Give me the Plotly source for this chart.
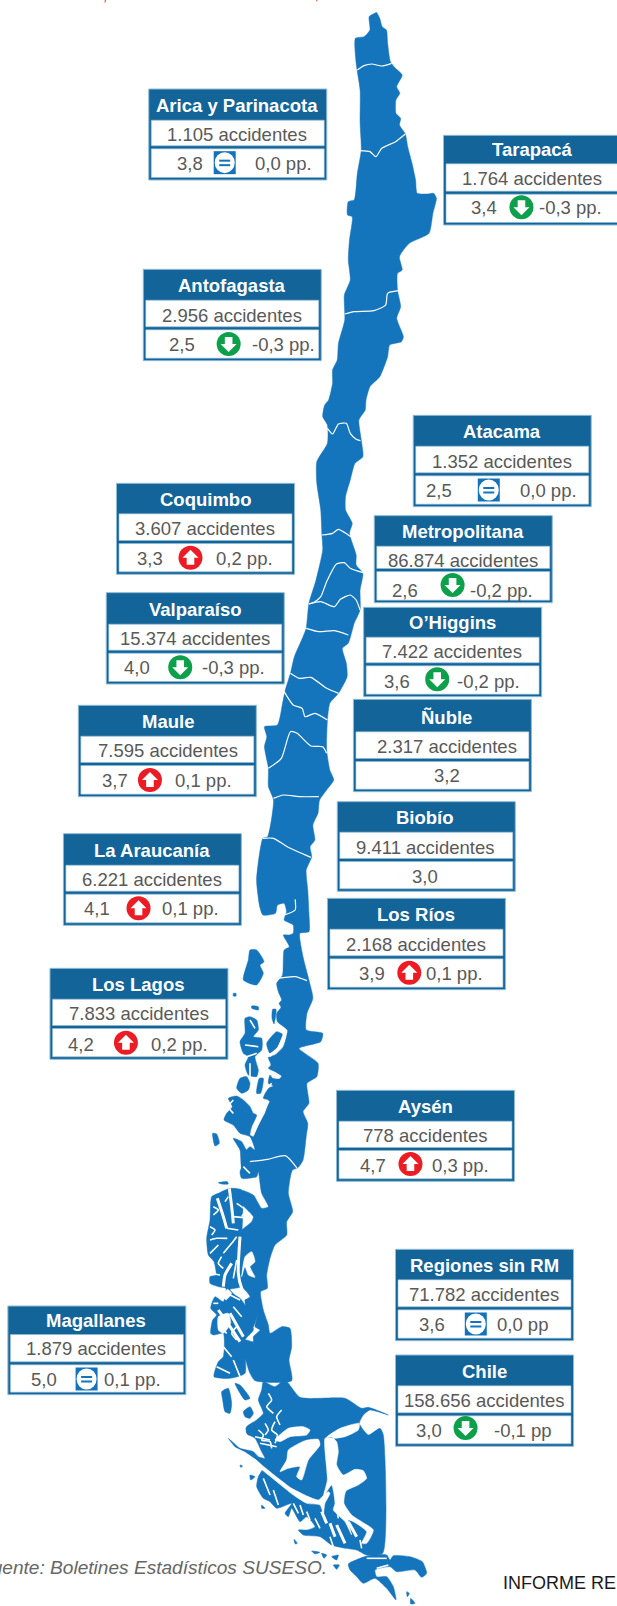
import plotly.graph_objects as go

# ---------- chart values ----------
REGIONS = ["Arica y Parinacota","Tarapacá","Antofagasta","Atacama","Coquimbo","Metropolitana","Valparaíso","O’Higgins","Maule","Ñuble","Biobío","La Araucanía","Los Ríos","Los Lagos","Aysén","Regiones sin RM","Magallanes","Chile"]
ACCIDENTS = ["1.105","1.764","2.956","1.352","3.607","86.874","15.374","7.422","7.595","2.317","9.411","6.221","2.168","7.833","778","71.782","1.879","158.656"]
RATES = ["3,8","3,4","2,5","2,5","3,3","2,6","4,0","3,6","3,7","3,2","3,0","4,1","3,9","4,2","4,7","3,6","5,0","3,0"]
CHANGES = ["0,0 pp.","-0,3 pp.","-0,3 pp.","0,0 pp.","0,2 pp.","-0,2 pp.","-0,3 pp.","-0,2 pp.","0,1 pp.","","","0,1 pp.","0,1 pp.","0,2 pp.","0,3 pp.","0,0 pp","0,1 pp.","-0,1 pp"]
TRENDS = ["eq","down","down","eq","up","down","down","down","up","","","up","up","up","up","eq","eq","down"]

# ---------- card layout (px) ----------
ZX = 2.541
CARD_L = [378,1127,364,1050,296,951,270,924,199,898,857,161,832,127,855,1005,20,1005]
TXT_X  = [603,1352,590,1275,521,1177,496,1149,426,1135,1080,386,1058,352,1080,1230,245,1230]
VAL_X  = [484,1231,462,1116,382,1030,348,1009,293,1135,1080,246,945,207,947,1098,112,1090]
ICON_X = [571,1325,581,1242,484,1150,458,1111,381,0,0,352,1040,320,1043,1209,220,1183]
CHG_X  = [721,1450,720,1394,620,1275,593,1241,517,0,0,484,1155,457,1171,1328,337,1328]
OY     = [0,0,0,400,400,400,400,400,400,400,800,800,800,800,800,1200,1200,1200]
TOP    = [267,406,808,46,250,347,578,622,916,898,5,101,295,505,871,148,318,465]
BOT    = [540,675,1082,320,523,608,852,890,1190,1175,274,376,569,778,1144,422,584,739]
DIV    = [442,578,985,223,426,510,755,793,1092,1080,180,278,472,681,1047,325,490,643]
T_Y    = [317,448,857,95,298,395,629,668,965,952,53,152,344,554,920,196,360,514]
R1_Y   = [404,536,947,184,385,482,716,755,1051,1040,143,239,434,641,1006,284,445,602]
R2_Y   = [490,623,1033,272,476,570,803,843,1142,1127,230,326,521,732,1097,374,537,690]
ICON_Y = [488,622,1032,270,473,555,802,838,1140,0,0,325,518,728,1092,372,537,684]
CARD_W = 178

BLUE = "#1474BC"; HEAD = "#126499"; GREY = "#595959"
EDGE = "#8FBBD6"; RED = "#ED1C24"; GREEN = "#0DA04A"; EQ = "#1272BC"; WHITE = "#FFFFFF"

def Z(pts, ox=0, oy=0, sx=3.0, sy=3.0):
    return [(ox + a / sx, oy + b / sy) for a, b in pts]
def W(pts, oy):
    return Z(pts, 0, oy, ZX, 3.0)
def z6(p): return Z(p, 200, 950)
def z7(p): return Z(p, 190, 1160)
def z8(p): return Z(p, 220, 1380)

# ---------- map geometry ----------
EAST = (W([(957,37),(965,55),(971,80),(982,90),(985,130),(992,185),(1005,205),(1022,225),(1008,260),(1016,280),(1006,300),(1006,340),(1018,355),(1015,375),(1030,402),(1036,440),(1047,490),(1056,540),(1060,580),(1085,582),(1102,580),(1109,595),(1100,640),(1090,700),(1040,730),(1015,770),(1022,810),(1010,820),(1010,870),(1018,920),(1008,955),(1025,1010),(1020,1025),(990,1035),(985,1070),(965,1130),(940,1160),(930,1200)],0)
      + W([(928,30),(912,60),(918,120),(922,170),(902,190),(890,240),(878,290),(878,330),(895,370),(888,400),(905,465),(905,495),(922,520),(915,570),(915,630),(900,670),(885,730),(870,745),(880,790),(882,830),(860,880),(838,910),(832,960),(830,1050),(838,1110),(848,1140),(830,1170),(812,1200)],400)
      + W([(808,40),(795,75),(800,120),(788,140),(792,170),(778,210),(782,270),(785,340),(785,395),(762,400),(770,470),(785,540),(795,595),(780,640),(778,690),(820,700),(815,725),(760,745),(808,790),(805,830),(780,850),(785,910),(770,935),(782,970),(778,1010),(770,1080),(755,1105)],800))
WEST = (W([(957,37),(938,50),(940,90),(925,110),(903,115),(905,190),(915,270),(915,370),(918,450),(908,520),(900,600),(885,605),(883,645),(895,650),(888,720),(885,780),(890,840),(875,885),(876,960),(860,1030),(857,1080),(845,1110),(845,1150),(835,1200)],0)
      + W([(825,15),(820,50),(832,75),(832,130),(805,185),(805,250),(815,330),(818,405),(820,450),(803,540),(785,610),(778,685),(770,710),(748,770),(738,820),(725,870),(718,910),(705,975),(672,980),(678,1010),(672,1040),(682,1105),(682,1160),(695,1200)],400)
      + W([(680,110),(668,115),(652,240),(660,320),(668,345),(700,340),(705,315),(722,310),(728,335),(722,360),(745,375),(745,400),(735,405),(720,405),(735,440),(722,450),(718,525)],800)
      + z6([(230,100),(235,125),(245,150),(237,160),(243,172),(230,190),(232,215),(262,240),(250,290),(225,315),(205,322),(213,345),(205,355),(225,365),(245,378),(238,387),(218,385),(210,375),(205,400),(220,408),(205,415),(190,445),(205,450),(195,490),(175,525),(160,560),(150,555),(155,530),(170,495),(160,490),(150,470),(130,450),(110,438),(85,445),(97,470),(80,490),(72,510),(100,525),(120,550),(150,560),(165,600),(150,590),(140,600),(130,640),(125,660)]))

PATAGONIA = z7([(170,0),(330,0),(305,35),(295,100),(308,155),(290,185),(290,225),(255,255),(240,295),(230,345),(232,385),(212,395),(220,450),(235,495),(240,520),(275,500),(300,505),(305,560),(297,600),(305,662),(195,662),(180,640),(165,590),(165,540),(190,545),(190,530),(210,510),(195,500),(205,460),(190,500),(185,490),(170,450),(165,420),(180,410),(165,390),(150,375),(152,340),(145,225),(155,210),(185,185),(190,170),(145,120),(150,90),(190,105),(215,145),(235,140),(215,100),(205,35),(200,50),(155,55),(150,35)])

ARCHIPELAGO = z7([(65,110),(85,100),(120,85),(155,90),(155,240),(152,380),(120,388),(135,405),(150,415),(175,450),(190,510),(165,540),(165,640),(120,655),(72,650),(85,605),(100,590),(100,520),(70,525),(62,520),(68,480),(80,465),(62,445),(75,410),(100,425),(108,385),(85,380),(60,370),(60,350),(78,345),(72,305),(55,285),(50,235),(60,180)])

MAGALLANES = z8([(195,0),(240,52),(375,55),(425,85),(445,82),(505,105),(450,90),(430,105),(418,130),(445,165),(480,145),(490,165),(488,520),(440,525),(410,510),(375,505),(335,495),(300,470),(250,465),(235,450),(262,450),(285,440),(260,410),(240,425),(215,385),(205,410),(195,400),(215,370),(170,385),(150,365),(130,355),(110,320),(115,290),(130,262),(110,240),(75,215),(45,200),(25,175),(60,205),(100,215),(115,230),(135,235),(125,215),(105,175),(80,160),(80,140),(110,120),(130,100),(115,60),(125,30),(130,5),(165,20)])

ISLANDS = [
 z6([(150,0),(170,0),(192,35),(180,45),(190,70),(170,105),(130,90),(145,30)]),
 z6([(100,130),(108,130),(108,138),(100,138)]),
 z6([(155,168),(175,170),(175,180),(155,175)]),
 z6([(218,178),(228,178),(222,222),(216,205)]),
 z6([(135,205),(150,200),(170,210),(175,240),(160,260),(185,265),(185,300),(165,320),(175,360),(170,380),(145,375),(135,345),(145,320),(130,310),(120,275),(135,250)]),
 z6([(140,380),(120,385),(110,415),(125,430),(145,420),(150,400)]),
 z6([(178,385),(190,385),(182,430),(170,430)]),
 z6([(200,280),(230,245),(250,255),(235,290),(210,310)]),
 z6([(38,550),(50,552),(58,580),(45,588)]),
 z6([(100,565),(125,575),(140,600),(150,595),(160,620),(140,630),(125,655),(120,600)]),
 z7([(85,68),(112,65),(115,72),(95,72)]),
 z8([(5,35),(25,25),(35,70),(30,100),(15,95),(8,60)]),
 z8([(45,10),(60,15),(90,55),(75,60)]),
 z8([(70,95),(90,80),(100,100),(90,115),(75,110)]),
 z8([(78,145),(100,130),(112,162),(85,165)]),
 z8([(385,552),(440,528),(500,525),(510,540),(520,527),(570,530),(607,545),(620,580),(605,592),(585,570),(530,575),(510,560),(465,570),(470,590),(500,590),(520,620),(528,660),(500,625),(465,595),(430,610),(410,590),(390,570)]),
 z8([(275,513),(300,517),(285,522)]), z8([(305,520),(320,525),(312,535)]), z8([(335,530),(355,525),(350,540)]),
 z8([(340,555),(358,555),(350,568)]), z8([(560,635),(568,640),(562,650)]), z8([(572,655),(585,670),(572,672)]),
 z8([(222,478),(232,490),(226,492)]), z8([(125,375),(135,385),(125,385)]), z8([(90,285),(105,290),(92,300)]), z8([(60,255),(68,258),(62,262)]),
]

WHITE_POLYS = [
 z8([(315,175),(335,172),(350,185),(355,215),(350,255),(370,285),(405,268),(430,272),(440,295),(415,315),(378,333),(372,370),(395,405),(425,425),(460,450),(440,490),(425,490),(440,455),(400,425),(385,420),(395,465),(375,425),(340,390),(345,370),(335,315),(310,350),(322,300)]),
 z8([(205,210),(255,182),(295,178),(300,195),(265,240),(245,300),(230,290),(240,260),(205,265),(180,275),(200,240)]),
 z8([(205,145),(250,140),(270,150),(260,165),(210,170),(180,185),(165,180)]),
 z8([(100,235),(125,255),(175,295),(215,325),(270,352),(295,360),(312,345),(325,335),(330,340),(315,370),(310,400),(300,375),(260,370),(220,345),(170,305),(120,265),(95,245)]),
 z8([(418,130),(360,145),(320,172),(345,175),(375,170),(415,150)]),
 z7([(165,290),(185,275),(195,305),(180,320),(195,352),(175,345),(165,320),(155,350)]),
 z7([(85,470),(115,460),(122,490),(100,520),(85,510)]),
 z7([(112,388),(125,400),(108,420),(100,410)]),
]
STREAKS_THICK = [
 z7([(82,115),(100,170),(110,205)]), z7([(118,85),(125,140),(130,190)]),
 z7([(150,230),(145,340),(155,385),(172,415)]), z7([(125,310),(105,345),(100,380)]),
 z7([(120,460),(160,530)]), z7([(85,450),(120,500),(150,545)]),
 z6([(258,240),(235,295),(207,318)]), z6([(205,452),(178,510),(158,552)]),
 z8([(320,430),(305,395)]), z8([(345,470),(330,430)]), z8([(375,490),(350,435)]), z8([(410,470),(385,425)]),
]
STREAKS = [  # thin white channels inside the land
 z6([(215,400),(190,430),(180,450),(175,480)]),
 z6([(150,340),(150,380)]), z6([(135,285),(175,290)]), z6([(150,210),(165,235)]), z6([(140,320),(170,310)]), z6([(100,450),(85,470),(100,490)]),
 z7([(110,205),(145,210)]), z7([(130,170),(185,175)]), z7([(60,240),(80,235),(112,235)]), z7([(60,280),(85,255)]),
 z7([(100,280),(125,250),(140,230)]), z7([(140,130),(165,150),(155,170)]), z7([(60,340),(90,345)]), z7([(140,300),(130,355)]),
 z7([(110,400),(150,420)]), z7([(90,500),(110,520)]), z7([(160,20),(180,40)]), z7([(100,560),(125,590)]), z7([(130,600),(150,650)]), z7([(80,620),(120,640)]),
 z7([(70,140),(85,150),(70,165)]), z7([(60,200),(75,210),(65,225)]), z7([(95,290),(85,310),(100,325)]), z7([(115,110),(105,125)]),
 z7([(70,430),(85,430)]), z7([(130,440),(155,470)]), z7([(140,500),(125,520),(140,540)]),
 z8([(115,150),(130,165),(125,180),(150,185),(155,205)]), z8([(135,130),(145,150),(135,165)]), z8([(165,125),(155,150),(172,165),(165,190)]),
 z8([(100,60),(115,85),(105,105)]), z8([(145,40),(155,60),(140,80),(160,100)]), z8([(185,90),(170,110),(180,135)]),
 z8([(105,170),(150,180)]), z8([(120,190),(170,200)]),
 z8([(260,395),(270,420)]), z8([(240,375),(250,405)]), z8([(300,445),(285,415)]), z8([(220,370),(235,400)]),
 z8([(350,385),(355,415)]), z8([(330,470),(340,500)]), z8([(420,480),(425,505)]), z8([(160,330),(175,375)]), z8([(130,295),(150,345)]),
 z8([(440,535),(500,535)]), z8([(470,565),(505,555)]),
]
BORDERS = [
 W([(908,210),(925,197),(945,192),(970,198),(995,190)],0),
 W([(915,452),(940,455),(955,470),(970,445),(1005,425),(1030,402)],0),
 W([(876,942),(900,935),(950,932),(980,915),(985,880),(1012,872)],0),
 W([(832,85),(845,102),(860,72),(880,70),(890,100),(905,118),(916,122)],400),
 W([(818,405),(845,400),(860,388),(885,405),(892,410)],400),
 W([(785,612),(800,605),(815,590),(830,545),(855,492),(875,488),(890,505),(922,518)],400),
 W([(785,612),(815,605),(850,620),(865,598),(890,585),(905,600),(915,630)],400),
 W([(778,685),(810,695),(850,692),(885,705)],400),
 W([(738,820),(760,835),(790,832),(830,865),(860,880)],400),
 W([(722,875),(745,915),(768,925),(775,950),(800,940),(832,960)],400),
 W([(682,1105),(715,1075),(738,995),(755,1000),(790,1038),(820,1040),(830,1060)],400),
 W([(695,1195),(720,1185),(760,1190),(810,1190)],400),
 W([(668,115),(695,115),(730,140),(790,172)],800),
 W([(750,298),(750,330),(722,345)],800),
 W([(705,535),(750,530),(780,542)],800),
 W([(635,1085),(680,1078),(725,1067),(755,1105)],800),
]

def poly_xy(polys):
    xs, ys = [], []
    for p in polys:
        xs += [a for a, _ in p] + [p[0][0], None]
        ys += [b for _, b in p] + [p[0][1], None]
    return xs, ys
def line_xy(lines):
    xs, ys = [], []
    for p in lines:
        xs += [a for a, _ in p] + [None]
        ys += [b for _, b in p] + [None]
    return xs, ys

fig = go.Figure()
def add_fill(polys, col, smooth=0.55):
    x, y = poly_xy(polys)
    fig.add_trace(go.Scatter(x=x, y=y, mode="lines", fill="toself", fillcolor=col, line=dict(color=col, width=0.5, shape="spline", smoothing=smooth), hoverinfo="skip", showlegend=False))
def add_line(lines, col, w):
    x, y = line_xy(lines)
    fig.add_trace(go.Scatter(x=x, y=y, mode="lines", line=dict(color=col, width=w, shape="spline", smoothing=0.6), hoverinfo="skip", showlegend=False, connectgaps=False))

add_fill([EAST + WEST[::-1], PATAGONIA, MAGALLANES, ARCHIPELAGO], BLUE)
add_fill(WHITE_POLYS, WHITE)
add_fill(ISLANDS, BLUE)
add_line(STREAKS_THICK, WHITE, 3)
add_line(STREAKS, WHITE, 1.6)
add_line(BORDERS, WHITE, 1.2)
# cut-off descenders of the line above the picture
add_line([[(105.5,0),(105,2.5)],[(317,0),(316.5,1.2)]], "#E8602C", 1.2)

shapes, notes = [], []
def rect(x0,y0,x1,y1,fill,line=None,lw=0):
    shapes.append(dict(type="rect",xref="x",yref="y",x0=x0,y0=y0,x1=x1,y1=y1,fillcolor=fill,layer="above",line=dict(color=line or fill,width=lw)))
def text(x,y,s,size=18.5,col=GREY,bold=False,anchor="center",italic=False,family="Liberation Sans"):
    if bold: s=f"<b>{s}</b>"
    if italic: s=f"<i>{s}</i>"
    notes.append(dict(x=x,y=y,xref="x",yref="y",text=s,showarrow=False,xanchor=anchor,yanchor="middle",font=dict(size=size,color=col,family=family)))

for i, name in enumerate(REGIONS):
    o=OY[i]; L=CARD_L[i]/ZX; t=o+TOP[i]/3; b=o+BOT[i]/3; d=o+DIV[i]/3
    R=L+CARD_W
    rect(L,t,R,b,HEAD,EDGE,1)
    hb=o+(T_Y[i]+45)/3
    rect(L+2.5,hb-0.5,R-2.5,d-1.5,WHITE,EDGE,0.6)
    rect(L+2.5,d+1.5,R-2.5,b-2.5,WHITE,EDGE,0.6)
    cx=TXT_X[i]/ZX
    text(cx,o+T_Y[i]/3,name,col=WHITE,bold=True)
    text(cx,o+R1_Y[i]/3,f"{ACCIDENTS[i]} accidentes")
    text(VAL_X[i]/ZX,o+R2_Y[i]/3,RATES[i])
    if TRENDS[i]:
        text(CHG_X[i]/ZX,o+R2_Y[i]/3,CHANGES[i])
        ix=ICON_X[i]/ZX; iy=o+ICON_Y[i]/3; r=12
        if TRENDS[i]=="eq":
            rect(ix-11,iy-11.5,ix+11,iy+11.5,EQ)
            shapes.append(dict(type="circle",xref="x",yref="y",x0=ix-10,y0=iy-10.5,x1=ix+10,y1=iy+10.5,fillcolor=WHITE,line=dict(width=0),layer="above"))
            rect(ix-5.5,iy-3,ix+5.5,iy-1,EQ); rect(ix-5.5,iy+1.5,ix+5.5,iy+3.5,EQ)
        else:
            col=RED if TRENDS[i]=="up" else GREEN
            shapes.append(dict(type="circle",xref="x",yref="y",x0=ix-r,y0=iy-r,x1=ix+r,y1=iy+r,fillcolor=col,line=dict(width=0),layer="above"))
            s=1 if TRENDS[i]=="down" else -1
            pts=[(0,8),(8,0),(3.8,0),(3.8,-7),(-3.8,-7),(-3.8,0),(-8,0)]
            path="M"+" L".join(f"{ix+a},{iy+s*c}" for a,c in pts)+" Z"
            shapes.append(dict(type="path",xref="x",yref="y",path=path,fillcolor=WHITE,line=dict(width=0),layer="above"))

text(328.5,1567,"Fuente: Boletines Estadísticos SUSESO.",size=19.1,col="#666666",anchor="right",italic=True)
text(500.5,1583,"INFORME RE",size=18,col="#1a1a1a",anchor="left")

fig.update_layout(width=617,height=1606,margin=dict(l=0,r=0,t=0,b=0),paper_bgcolor="white",plot_bgcolor="white",
    showlegend=False,shapes=shapes,annotations=notes,
    xaxis=dict(range=[0,617],visible=False,fixedrange=True),
    yaxis=dict(range=[1606,0],visible=False,fixedrange=True),
    font=dict(family="Liberation Sans"))
fig.write_html("out.html",config=dict(displayModeBar=False),post_script="document.body.style.margin='0';document.body.style.overflow='hidden';")
